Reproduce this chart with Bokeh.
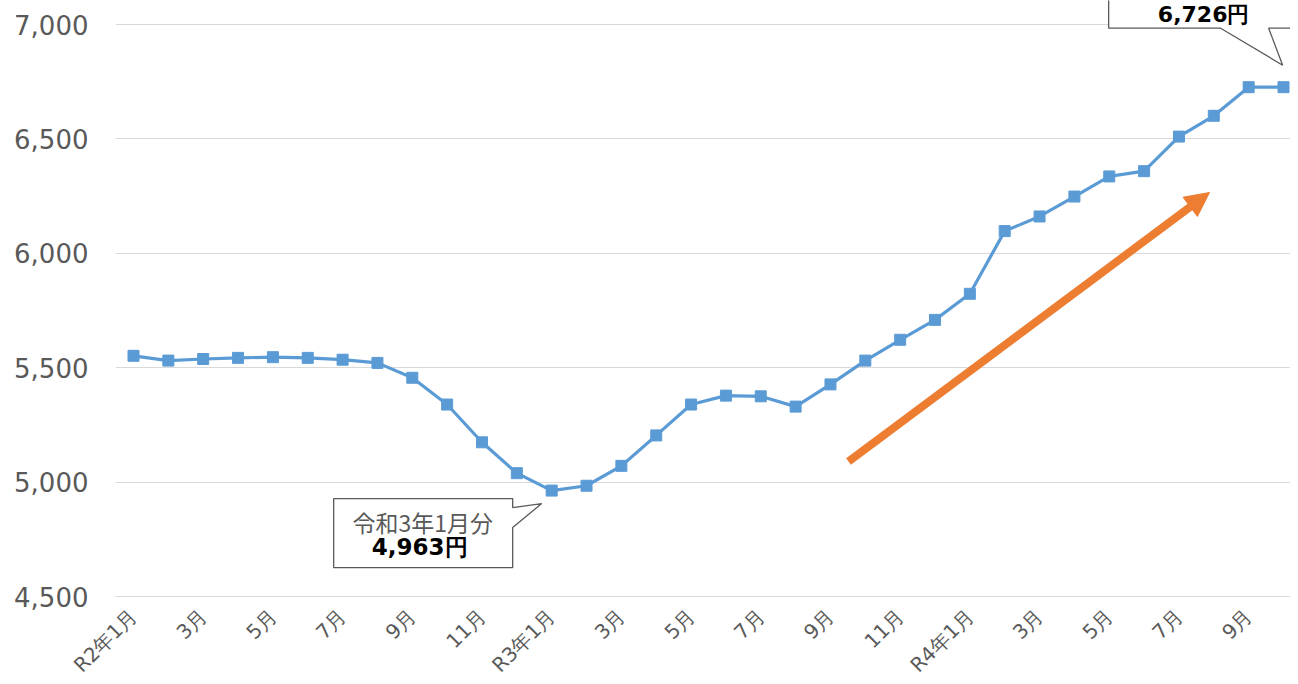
from math import pi
from bokeh.plotting import figure
from bokeh.models import (FixedTicker, Label, Arrow, NormalHead, Range1d,
                          NumeralTickFormatter)
from bokeh.embed import file_html
from bokeh.resources import INLINE

# ---------------- data ----------------
months = ["R2年1月", "2月", "3月", "4月", "5月", "6月", "7月", "8月", "9月", "10月", "11月", "12月",
          "R3年1月", "2月", "3月", "4月", "5月", "6月", "7月", "8月", "9月", "10月", "11月", "12月",
          "R4年1月", "2月", "3月", "4月", "5月", "6月", "7月", "8月", "9月", "10月"]
values = [5552, 5531, 5538, 5543, 5546, 5543, 5535, 5521, 5456, 5339, 5174, 5039,
          4963, 4984, 5071, 5204, 5339, 5378, 5375, 5330, 5427, 5531, 5622, 5709,
          5823, 6097, 6161, 6248, 6336, 6359, 6510, 6601, 6726, 6726]
tick_index = list(range(0, len(months), 2))
tick_labels = [months[i] for i in tick_index]
y_ticks = [4500, 5000, 5500, 6000, 6500, 7000]
low_label = ["令和3年1月分", "4,963円"]
high_label = "6,726円"
low_idx = 12
high_idx = 32

# ---------------- layout helpers (picture pixels <-> data) ----------------
FL, FT, FR, FB = 115, 0, 1290, 596
PXX = (1283 - 133) / 33.0
PXY = 0.2288
x0 = -(133 - FL) / PXX
x1 = x0 + (FR - FL) / PXX
y0 = 4500
y1 = y0 + (FB - FT) / PXY


def dx(px):
    return x0 + (px - FL) / PXX


def dy(py):
    return y0 + (FB - py) / PXY


def px(x):
    return FL + (x - x0) * PXX


def py(y):
    return FB - (y - y0) * PXY


p = figure(frame_width=FR - FL, frame_height=FB - FT,
           x_range=Range1d(x0, x1), y_range=Range1d(y0, y1),
           output_backend="svg", toolbar_location=None,
           min_border_left=FL, min_border_right=0, min_border_top=0,
           min_border_bottom=72)
p.outline_line_color = None
p.background_fill_color = "white"
p.border_fill_color = "white"

# axes
p.yaxis.ticker = FixedTicker(ticks=y_ticks)
p.yaxis.formatter = NumeralTickFormatter(format="0,0")
p.yaxis.axis_line_color = None
p.yaxis.major_tick_line_color = None
p.yaxis.minor_tick_line_color = None
p.yaxis.major_tick_out = 0
p.yaxis.minor_tick_out = 0
p.yaxis.major_label_standoff = 27
p.yaxis.major_label_text_font = "DejaVu Sans"
p.yaxis.major_label_text_font_size = "26px"
p.yaxis.major_label_text_color = "#595959"

p.xaxis.ticker = FixedTicker(ticks=tick_index)
p.xaxis.major_label_overrides = {i: lab for i, lab in zip(tick_index, tick_labels)}
p.xaxis.major_label_orientation = pi / 4
p.xaxis.axis_line_color = "#D9D9D9"
p.xaxis.major_tick_line_color = None
p.xaxis.minor_tick_line_color = None
p.xaxis.major_tick_out = 0
p.xaxis.minor_tick_out = 0
p.xaxis.major_label_standoff = 16
p.xaxis.major_label_text_font = "DejaVu Sans"
p.xaxis.major_label_text_font_size = "20px"
p.xaxis.major_label_text_color = "#595959"

p.xgrid.visible = False
p.ygrid.ticker = FixedTicker(ticks=y_ticks)
p.ygrid.grid_line_color = "#D9D9D9"
p.ygrid.grid_line_width = 1

# series
xs = list(range(len(values)))
p.line(xs, values, line_color="#5B9BD5", line_width=3.2)
p.scatter(xs, values, marker="square", size=11, fill_color="#5B9BD5",
          line_color="#5B9BD5")

# trend arrow
p.add_layout(Arrow(end=NormalHead(size=24, fill_color="#ED7D31", line_color="#ED7D31", line_width=1),
                   x_start=dx(848), y_start=dy(461), x_end=dx(1209), y_end=dy(192),
                   line_color="#ED7D31", line_width=8))

# callout 1 (anchored at the low point)
cx, cy = px(low_idx), py(values[low_idx])
c1 = [(cx - 218, cy + 8), (cx - 39, cy + 8), (cx - 39, cy + 17), (cx - 10, cy + 13),
      (cx - 39, cy + 37), (cx - 39, cy + 77), (cx - 218, cy + 77)]
p.patch([dx(a) for a, b in c1], [dy(b) for a, b in c1], fill_color="white",
        line_color="#595959", line_width=1.3)
p.add_layout(Label(x=dx(cx - 129), y=dy(cy + 31), text=low_label[0], text_align="center",
                   text_baseline="middle", text_font="Noto Sans CJK JP",
                   text_font_size="23px", text_color="#595959"))
p.add_layout(Label(x=dx(cx - 132), y=dy(cy + 56), text=low_label[1], text_align="center",
                   text_baseline="middle", text_font="DejaVu Sans", text_font_style="bold",
                   text_font_size="23px", text_color="black"))

# callout 2 (anchored at the high point)
hx, hy = px(high_idx), py(values[high_idx])
c2 = [(hx - 140, hy - 120), (hx + 80, hy - 120), (hx + 80, hy - 59), (hx + 20, hy - 59),
      (hx + 34, hy - 22), (hx - 28, hy - 59), (hx - 140, hy - 59)]
p.patch([dx(a) for a, b in c2], [dy(b) for a, b in c2], fill_color="white",
        line_color="#595959", line_width=1.3)
p.add_layout(Label(x=dx(hx - 45), y=dy(hy - 73), text=high_label, text_align="center",
                   text_baseline="middle", text_font="DejaVu Sans", text_font_style="bold",
                   text_font_size="22px", text_color="black"))

open("out.html", "w").write(file_html(p, INLINE))
